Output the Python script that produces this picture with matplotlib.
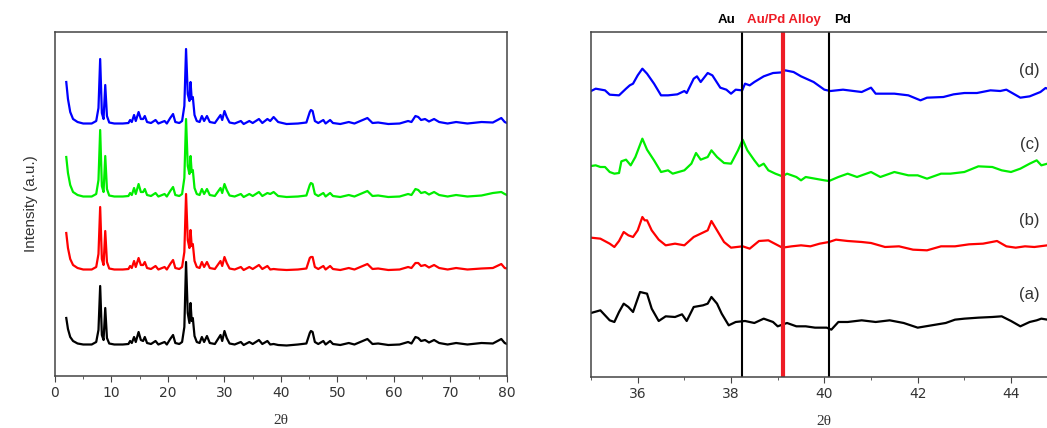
import matplotlib
matplotlib.use('Agg')
import matplotlib.pyplot as plt
import numpy as np
from matplotlib.ticker import MultipleLocator

# ---- left panel: full XRD patterns, 2theta 2-80 (intensity above each baseline) ----
two_theta = [2.0, 2.3, 2.7, 3.2, 4.0, 5.0, 6.5, 7.3, 7.7, 8.0,
             8.3, 8.6, 8.9, 9.2, 9.6, 10.5, 12.0, 13.0, 13.3, 13.6,
             14.0, 14.3, 14.8, 15.2, 15.6, 15.9, 16.3, 17.0, 17.8, 18.3,
             19.4, 19.8, 20.4, 20.9, 21.3, 22.0, 22.5, 22.9, 23.2, 23.5,
             23.8, 24.0, 24.2, 24.4, 24.7, 25.1, 25.6, 26.0, 26.4, 26.9,
             27.4, 28.3, 29.3, 29.6, 30.0, 30.4, 30.9, 31.8, 32.9, 33.4,
             34.4, 35.0, 36.1, 36.7, 37.6, 38.1, 38.7, 39.5, 41.0, 43.0,
             44.5, 45.1, 45.3, 45.6, 46.0, 46.6, 47.5, 47.9, 48.7, 49.2,
             50.5, 52.0, 53.0, 55.3, 56.2, 57.2, 59.0, 61.0, 62.5, 63.1,
             63.8, 64.3, 64.8, 65.5, 66.2, 67.1, 68.0, 69.5, 71.0, 73.0,
             75.5, 77.5, 79.0, 79.6, 80.0]

int_a = [27, 16, 8, 4, 1.5, 0.5, 0.5, 3, 15, 59,
         10, 5, 37, 7, 1.5, 0.5, 0.5, 1, 4, 2,
         8, 3, 13, 5, 4, 8, 2, 1, 4, 0.5,
         3, 0.5, 6, 10, 2, 1, 3, 18, 83, 32,
         22, 42, 24, 27, 9, 3, 2, 8, 3, 9,
         2, 1, 10, 4, 14, 7, 1.5, 0.5, 3, 0,
         3, 1, 5, 1, 4, 0.5, 1, 0, -0.5, 0.5,
         1.5, 12, 14, 13, 3, 1, 4, 0.5, 4, 1,
         0, 2, 0.5, 6, 1, 1.5, 0, 0.5, 3, 1.5,
         8, 7, 4, 5, 2.5, 5, 2, 0.5, 2, 0.5,
         2, 1.5, 6, 2, 1]

int_b = [37, 22, 11, 5, 2, 0.5, 0.5, 3, 16, 63,
         11, 5, 39, 8, 1.5, 0.5, 0.5, 1, 4, 2,
         9, 3, 12, 5, 5, 8, 2, 1, 4, 0.5,
         3, 0.5, 6, 10, 2, 1, 3, 18, 76, 30,
         22, 40, 24, 26, 9, 3, 2, 8, 3, 8,
         2, 1, 9, 4, 13, 7, 1.5, 0.5, 3, 0,
         3, 1, 5, 1, 4, 0.5, 1, 0.5, 0, 0.5,
         1.5, 12, 13, 13, 3, 1, 4, 0.5, 4, 1,
         0, 2, 0.5, 6, 1, 1.5, 0, 0.5, 3, 2,
         7, 7, 4, 5, 2.5, 5, 2, 0.5, 2, 0.5,
         1.5, 2, 6, 2, 1.5]

int_c = [40, 24, 12, 5, 2, 0.5, 0.5, 3, 17, 67,
         11, 5, 41, 8, 1.5, 0.5, 0.5, 1, 4, 2,
         9, 3, 13, 5, 5, 8, 2, 1, 4, 0.5,
         3, 0.5, 6, 10, 2, 1, 3, 19, 78, 31,
         23, 41, 25, 27, 9, 3, 2, 8, 3, 8,
         2, 1, 9, 4, 13, 7, 1.5, 0.5, 3, 0,
         3, 1, 5, 1, 4, 3, 5, 1, 0, 0.5,
         1.5, 12, 14, 13, 3, 1, 4, 0.5, 4, 1,
         0, 2, 0.5, 6, 1, 1.5, 0, 0.5, 3, 2,
         8, 7, 4, 5, 2.5, 5, 2, 0.5, 2, 0.5,
         1.5, 4, 5, 3, 2]

int_d = [42, 25, 12, 5, 2, 0.5, 0.5, 3, 16, 65,
         11, 5, 39, 8, 1.5, 0.5, 0.5, 1, 4, 2,
         9, 3, 12, 5, 5, 8, 2, 1, 4, 0.5,
         3, 0.5, 6, 10, 2, 1, 3, 18, 75, 30,
         23, 42, 25, 27, 9, 3, 2, 8, 3, 8,
         2, 1, 9, 4, 13, 7, 1.5, 0.5, 3, 0,
         3, 1, 5, 1, 5, 3, 7, 2, 0, 0.5,
         1.5, 12, 14, 13, 3, 1, 4, 0.5, 4, 1,
         0, 2, 0.5, 6, 1, 1.5, 0, 0.5, 3, 2,
         8, 7, 4, 5, 2.5, 5, 2, 0.5, 2, 0.5,
         2, 1.5, 6, 2, 1]

# ---- right panel: zoom 35-45 (2theta, intensity above baseline) ----
zoom_a = [(35.0, 32), (35.2, 40), (35.4, 10), (35.5, 5), (35.6, 35), (35.7, 60),
          (35.8, 50), (35.9, 35), (36.05, 95), (36.2, 90), (36.3, 45), (36.45, 8),
          (36.6, 22), (36.8, 20), (36.95, 28), (37.05, 8), (37.2, 50), (37.4, 55),
          (37.5, 60), (37.58, 80), (37.7, 60), (37.8, 30), (37.95, -5), (38.1, 5),
          (38.3, 8), (38.5, 2), (38.7, 15), (38.9, 5), (39.0, -8), (39.2, 2),
          (39.4, -8), (39.6, -8), (39.8, -12), (40.05, -12), (40.15, -18), (40.3, 5),
          (40.5, 5), (40.8, 10), (41.1, 5), (41.4, 10), (41.7, 2), (42.0, -12),
          (42.3, -5), (42.6, 2), (42.8, 12), (43.0, 15), (43.3, 18), (43.6, 20),
          (43.8, 22), (44.0, 8), (44.2, -8), (44.4, 5), (44.55, 10), (44.65, 15),
          (44.78, 12), (45.0, 12)]

zoom_b = [(35.0, 28), (35.2, 25), (35.4, 10), (35.5, 0), (35.6, 18), (35.7, 45),
          (35.8, 35), (35.9, 30), (36.0, 50), (36.1, 90), (36.15, 80), (36.2, 80),
          (36.3, 50), (36.45, 22), (36.6, 5), (36.8, 10), (37.0, 5), (37.2, 30),
          (37.35, 40), (37.5, 50), (37.58, 78), (37.7, 50), (37.85, 15), (38.0, -2),
          (38.25, 2), (38.4, -5), (38.6, 18), (38.8, 20), (39.1, -2), (39.3, 2),
          (39.5, 5), (39.7, 2), (39.9, 10), (40.1, 15), (40.25, 22), (40.5, 18),
          (40.8, 15), (41.0, 12), (41.3, 0), (41.6, 2), (41.9, -8), (42.2, -10),
          (42.5, 2), (42.8, 2), (43.1, 8), (43.4, 10), (43.7, 18), (43.9, 2),
          (44.1, -2), (44.3, 2), (44.5, 0), (44.78, 5), (45.0, 5)]

zoom_c = [(35.0, 23), (35.1, 25), (35.2, 20), (35.3, 20), (35.4, 5), (35.5, 0),
          (35.6, 2), (35.65, 37), (35.75, 42), (35.85, 25), (35.95, 50), (36.1, 105),
          (36.2, 72), (36.35, 40), (36.5, 5), (36.65, 10), (36.75, 0), (37.0, 10),
          (37.15, 30), (37.25, 62), (37.35, 42), (37.5, 50), (37.58, 70), (37.7, 50),
          (37.85, 32), (38.0, 30), (38.15, 70), (38.25, 102), (38.35, 70), (38.5, 40),
          (38.6, 22), (38.7, 30), (38.8, 10), (38.95, 0), (39.1, -8), (39.2, 0),
          (39.4, -10), (39.5, -20), (39.6, -10), (39.8, -15), (40.0, -20), (40.1, -22),
          (40.3, -10), (40.5, 0), (40.7, -10), (41.0, 5), (41.2, -10), (41.5, 5),
          (41.8, -5), (42.0, -5), (42.2, -15), (42.5, 0), (42.7, 0), (43.0, 5),
          (43.3, 22), (43.6, 20), (43.8, 10), (44.0, 5), (44.2, 15), (44.4, 30),
          (44.55, 40), (44.65, 25), (44.78, 30), (45.0, 28)]

zoom_d = [(35.0, 8), (35.1, 15), (35.3, 10), (35.4, -3), (35.6, -5), (35.75, 15),
          (35.83, 25), (35.9, 30), (36.0, 55), (36.1, 75), (36.2, 60), (36.35, 30),
          (36.5, -5), (36.65, -5), (36.85, -2), (37.0, 8), (37.05, 2), (37.2, 45),
          (37.27, 52), (37.35, 35), (37.5, 62), (37.6, 55), (37.77, 18), (37.9, 12),
          (38.0, 0), (38.1, 12), (38.24, 10), (38.3, 30), (38.4, 25), (38.5, 35),
          (38.7, 52), (38.9, 62), (39.1, 64), (39.16, 70), (39.34, 65), (39.5, 52),
          (39.77, 35), (40.0, 12), (40.13, 8), (40.4, 12), (40.8, 5), (41.0, 18),
          (41.1, 0), (41.5, 0), (41.8, -5), (42.06, -20), (42.2, -12), (42.55, -10),
          (42.77, -2), (43.0, 2), (43.27, 2), (43.56, 10), (43.77, 8), (43.9, 12),
          (44.2, -12), (44.4, -8), (44.63, 5), (44.74, 17), (44.85, 12), (45.0, 10)]

ref_lines = [38.24, 39.11, 40.11]
ref_names = ['Au', 'Au/Pd Alloy', 'Pd']
ref_label_x = [37.9, 39.13, 40.4]
sample_labels = ['(a)', '(b)', '(c)', '(d)']

colors = ['black', '#ff0000', '#00ee00', '#0000ff']
axis_grey = '#444444'

fig = plt.figure(figsize=(10.47, 4.28), dpi=100)
ax1 = fig.add_axes([0.0525, 0.1215, 0.4317, 0.8037])
ax2 = fig.add_axes([0.5645, 0.1192, 0.4457, 0.8060])

for ax in (ax1, ax2):
    for s in ax.spines.values():
        s.set_color(axis_grey)
        s.set_linewidth(1.1)
    ax.tick_params(axis='x', which='both', direction='out', colors=axis_grey,
                   labelsize=10, labelcolor='#333333')
    ax.tick_params(axis='x', which='major', length=4)
    ax.tick_params(axis='x', which='minor', length=2.5)
    ax.set_yticks([])
    ax.set_xlabel('2θ', family='Liberation Serif', fontsize=11, color='#333333', labelpad=10)

# left panel
offsets_l = [31, 106, 179, 252]
for yy, off, c in zip([int_a, int_b, int_c, int_d], offsets_l, colors):
    ax1.plot(two_theta, np.array(yy) + off, color=c, lw=1.6)
ax1.set_xlim(0, 80)
ax1.set_ylim(0, 344)
ax1.xaxis.set_major_locator(MultipleLocator(10))
ax1.xaxis.set_minor_locator(MultipleLocator(5))
ax1.set_ylabel('Intensity (a.u.)', family='Liberation Sans', fontsize=11,
               color='#333333', labelpad=12)

# right panel
offsets_r = [160, 390, 610, 850]
for pts, off, c in zip([zoom_a, zoom_b, zoom_c, zoom_d], offsets_r, colors):
    xs, ys = zip(*pts)
    ax2.plot(xs, np.array(ys) + off, color=c, lw=1.6)
ax2.set_xlim(35, 45)
ax2.set_ylim(0, 1035)
ax2.xaxis.set_major_locator(MultipleLocator(2))
ax2.xaxis.set_minor_locator(MultipleLocator(1))

ax2.axvline(ref_lines[0], color='black', lw=1.5)
ax2.axvline(ref_lines[1], color='#ee1c25', lw=3)
ax2.axvline(ref_lines[2], color='black', lw=1.5)
for name, xl, c in zip(ref_names, ref_label_x, ['black', '#ee1c25', 'black']):
    ax2.text(xl, 1.035, name, transform=ax2.get_xaxis_transform(), ha='center',
             va='center', fontsize=9.5, fontweight='bold', color=c,
             family='Liberation Sans')

# labels listed bottom to top, placed at pixel rows of the reference
label_y = [295, 221, 144, 70]
for lab, ly in zip(sample_labels, label_y):
    ax2.text(44.4, (377 - ly) * 3, lab, ha='center', va='center', fontsize=12,
             color='#333333', family='Liberation Sans')

fig.savefig('out.png', dpi=100)
